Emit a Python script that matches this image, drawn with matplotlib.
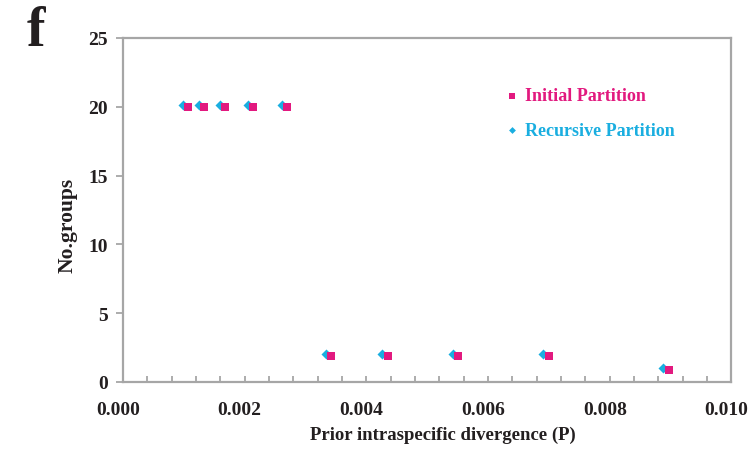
import matplotlib
matplotlib.use("Agg")
import matplotlib.pyplot as plt
import matplotlib.transforms as mtransforms
from matplotlib.ticker import MultipleLocator

# -------------------------------------------------------------------------
# Data
# -------------------------------------------------------------------------
initial_x = [0.00107, 0.00133, 0.00168, 0.00214, 0.00270,
             0.00342, 0.00435, 0.00551, 0.00700, 0.00897]
initial_y = [20, 20, 20, 20, 20, 1.9, 1.9, 1.9, 1.9, 0.9]

recursive_x = [0.00099, 0.00125, 0.00160, 0.00206, 0.00262,
               0.00333, 0.00426, 0.00542, 0.00691, 0.00888]
recursive_y = [20.1, 20.1, 20.1, 20.1, 20.1, 2.05, 2.05, 2.05, 2.05, 1.05]

x_ticks = [0.000, 0.002, 0.004, 0.006, 0.008, 0.010]
y_ticks = [0, 5, 10, 15, 20, 25]

pink = "#E2197F"
cyan = "#1AAEE0"
grey = "#A6A6A6"
ink = "#231F20"
serif = ["Liberation Serif", "DejaVu Serif"]

# -------------------------------------------------------------------------
# Figure
# -------------------------------------------------------------------------
fig = plt.figure(figsize=(7.53, 4.64), dpi=100)
ax = fig.add_axes([0.1633, 0.1746, 0.9714 - 0.1633, 0.916 - 0.1746])

ax.scatter(recursive_x, recursive_y, marker="D", s=26, color=cyan,
           linewidths=0, zorder=3)
ax.scatter(initial_x, initial_y, marker="s", s=40, color=pink,
           linewidths=0, zorder=4)

ax.set_xlim(0, 0.010)
ax.set_ylim(0, 25)
ax.set_xticks(x_ticks)
ax.set_xticklabels([f"{v:.3f}" for v in x_ticks])
ax.xaxis.set_minor_locator(MultipleLocator(0.0004))
ax.set_yticks(y_ticks)

for s in ax.spines.values():
    s.set_color(grey)
    s.set_linewidth(1.6)

ax.tick_params(axis="x", which="both", direction="in", length=4,
               width=1.3, color=grey, pad=14)
ax.tick_params(axis="y", which="major", direction="out", length=5,
               width=1.3, color=grey, pad=6)

for lab in ax.get_xticklabels() + ax.get_yticklabels():
    lab.set_family(serif)
    lab.set_fontweight("bold")
    lab.set_fontsize(14)
    lab.set_color(ink)

# excel-style label offset to the left
shift = mtransforms.ScaledTranslation(-5 / 100, 0, fig.dpi_scale_trans)
for lab in ax.get_xticklabels():
    lab.set_transform(lab.get_transform() + shift)

ax.set_xlabel("Prior intraspecific divergence (P)", family=serif,
              fontweight="bold", fontsize=13.5, color=ink)
ax.xaxis.set_label_coords(0.526, -0.128)
ax.set_ylabel("No.groups", family=serif, fontweight="bold", fontsize=15.5,
              color=ink)
ax.yaxis.set_label_coords(-0.074, 0.459)

# legend, drawn by hand to match the coloured text
ax.scatter([0.00640], [20.8], marker="s", s=20, color=pink, linewidths=0,
           clip_on=False)
ax.text(0.00660, 20.8, "Initial Partition", family=serif, fontweight="bold",
        fontsize=13, color=pink, va="center")
ax.scatter([0.00640], [18.3], marker="D", s=12, color=cyan, linewidths=0,
           clip_on=False)
ax.text(0.00660, 18.3, "Recursive Partition", family=serif,
        fontweight="bold", fontsize=13, color=cyan, va="center")

fig.text(0.036, 0.9, "f", family=serif, fontweight="bold", fontsize=40,
         color=ink)

fig.savefig("out.png", dpi=100)
